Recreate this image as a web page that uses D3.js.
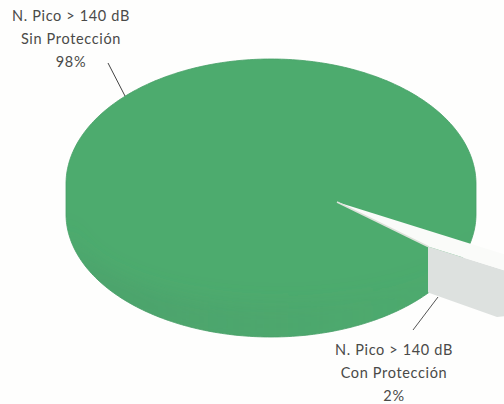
<!DOCTYPE html>
<html>
<head>
<meta charset="utf-8">
<script src="https://cdn.jsdelivr.net/npm/d3@7"></script>
<style>
  html, body { margin: 0; padding: 0; background: #fefefd; }
  text { font-family: Lato, "Open Sans", sans-serif; font-size: 14.5px; letter-spacing: 0.65px; fill: #4a4a48; text-anchor: middle; }
</style>
</head>
<body>
<svg id="chart" width="504" height="404"></svg>
<script>
var categories = ["Sin Protección", "Con Protección"];
var values = [98, 2];
var labelTitle = "N. Pico > 140 dB";

var width = 504, height = 404;
var svg = d3.select("#chart");

// the disc in the picture, seen at an angle
var cx = 271, rx = 205, ry = 125, ryLow = 123;
var topY = 184, bottomY = 214;
var apex = [337, 202];
var cutX = 428;       // where the pulled out slice starts on the rim
var viewStretch = 1.6; // the tilt makes the small slice look wider than it is
var endAngle = 128.7 * Math.PI / 180;

// 0 at the top, clockwise, same as d3.pie
var pie = d3.pie().sort(null).startAngle(endAngle).endAngle(endAngle + 2 * Math.PI);
var slices = pie(values);
var span = (slices[0].endAngle - slices[0].startAngle);
var slice = 2 * Math.PI - span;

// direction on screen for a pie angle
function screenDir(a) {
  return [Math.sin(a) * rx, -Math.cos(a) * ry];
}
function alongTo(start, dir, x) {
  var t = (x - start[0]) / dir[0];
  return [x, start[1] + t * dir[1]];
}

var lowerDir = screenDir(endAngle);
var upperDir = screenDir(endAngle - slice * viewStretch);

var line = d3.line();
var ellipsePt = function(a, y0, r) { return [cx + Math.cos(a) * rx, y0 + Math.sin(a) * r]; };

// whole body outline
var bodyPts = d3.range(181).map(function(i) { return ellipsePt(Math.PI + i * Math.PI / 180, topY, ry); })
  .concat(d3.range(181).map(function(i) { return ellipsePt(i * Math.PI / 180, bottomY, ryLow); }));

var defs = svg.append("defs");
var grad = defs.append("linearGradient").attr("id", "rim")
  .attr("x1", 0).attr("x2", 1).attr("y1", 0).attr("y2", 0);
grad.append("stop").attr("offset", "0%").attr("stop-color", "#4a8f68").attr("stop-opacity", 0.32);
grad.append("stop").attr("offset", "40%").attr("stop-color", "#4a8f68").attr("stop-opacity", 0.18);
grad.append("stop").attr("offset", "100%").attr("stop-color", "#4a8f68").attr("stop-opacity", 0.02);
defs.append("filter").attr("id", "soft").append("feGaussianBlur").attr("stdDeviation", 10);
defs.append("clipPath").attr("id", "bodyClip").append("path").attr("d", line(bodyPts) + "Z");

svg.append("path")
  .attr("d", line(bodyPts) + "Z")
  .attr("fill", "#4dab6e")
  .attr("stroke", "#469f67")
  .attr("stroke-width", 0.8);

// front rim, only a soft darkening in the reference
var rimPts = d3.range(181).map(function(i) { return ellipsePt(i * Math.PI / 180, bottomY + 12, ryLow); })
  .concat(d3.range(181).map(function(i) { return ellipsePt(Math.PI - i * Math.PI / 180, topY + 36, ry - 42); }));
svg.append("g").attr("clip-path", "url(#bodyClip)")
  .append("path")
  .attr("d", line(rimPts) + "Z")
  .attr("fill", "url(#rim)")
  .attr("filter", "url(#soft)");

// slice: side first, then the pale top
var p = alongTo(apex, lowerDir, cutX);
var q = alongTo(p, upperDir, width + 2);
var r = alongTo(p, upperDir, width - 7);
svg.append("path")
  .attr("d", line([p, q, [q[0], q[1] + 45], [r[0], r[1] + 49], [p[0], p[1] + 46]]) + "Z")
  .attr("fill", "#dde1df");

var u = alongTo(apex, upperDir, width + 2);
svg.append("path")
  .attr("d", line([apex, u, q, p]) + "Z")
  .attr("fill", "#fafbf9");
svg.append("path")
  .attr("d", line([apex, p]))
  .attr("fill", "none")
  .attr("stroke", "#dde2da")
  .attr("stroke-width", 1.5);

// leader lines
svg.append("path").attr("d", line([[108, 63], [125, 96]])).attr("stroke", "#444").attr("fill", "none");
svg.append("path").attr("d", line([[438, 297], [413, 330]])).attr("stroke", "#555").attr("fill", "none");

// labels
function addLabel(x, y, cat, val) {
  [labelTitle, cat, val + "%"].forEach(function(t, i) {
    svg.append("text").attr("x", x).attr("y", y + i * 23).text(t);
  });
}
addLabel(71, 21, categories[0], values[0]);
addLabel(394, 355, categories[1], values[1]);
</script>
</body>
</html>
